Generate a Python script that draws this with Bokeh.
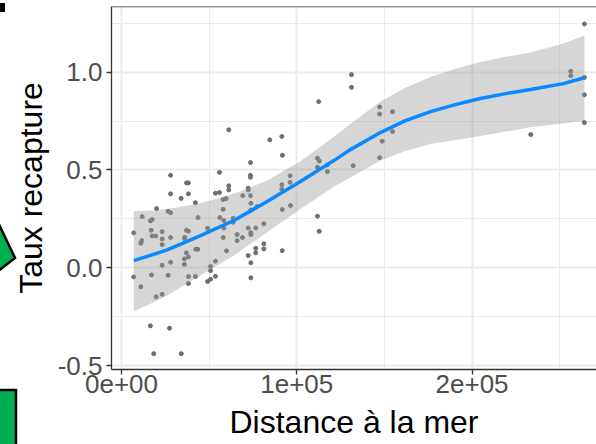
from bokeh.plotting import figure
from bokeh.layouts import row
from bokeh.models import FixedTicker, Span, Div
from bokeh.embed import file_html
from bokeh.resources import INLINE

# Observations: distance to the sea (m) and recapture rate
distance = [
    7000, 7000, 11000, 11600, 11000, 11800, 16500, 17500, 16900, 17500,
    19600, 17100, 16500, 18400, 19800, 20000, 23200, 23200, 23200, 23200,
    23200, 26600, 28000, 28000, 28000, 26600, 27400, 28000, 28000, 34100,
    34000, 37100, 38200, 38200, 37100, 38200, 36100, 36100, 37000, 38200,
    35900, 35900, 38200, 38200, 42200, 42200, 43700, 42400, 43500, 49100,
    50800, 50800, 50800, 49100, 53600, 53600, 53600, 55900, 55900, 56100,
    58000, 58400, 58400, 58000, 59700, 58000, 59900, 61200, 61200, 61200,
    63700, 63700, 66000, 66000, 69000, 69200, 73600, 72300, 72300, 73600,
    73600, 73600, 73800, 73800, 77200, 72300, 73800, 73800, 76600, 81200,
    72300, 73800, 73800, 76600, 76600, 81200, 81200, 84600, 91500, 91800,
    91700, 91700, 96200, 91500, 96200, 91500, 96400, 111800, 112900, 111800,
    117500, 117500, 112500, 111800, 112800, 131200, 131200, 132200, 147300, 147300,
    154600, 154600, 148700, 147300, 233500, 256300, 256300, 264100, 264100, 264100,
    264100,
]
taux = [
    0.179, -0.046, -0.096, 0.139, 0.126, 0.262, 0.240, 0.247, 0.192, 0.163,
    0.163, -0.036, -0.296, -0.438, -0.148, 0.303, 0.185, 0.148, 0.119, 0.013,
    -0.135, 0.289, 0.282, 0.155, 0.029, -0.038, -0.308, 0.473, 0.378, -0.438,
    0.355, 0.434, 0.434, 0.378, 0.192, 0.187, 0.156, 0.148, 0.077, 0.056,
    0.046, 0.018, -0.044, -0.080, -0.044, 0.333, 0.257, 0.095, 0.095, 0.202,
    0.007, -0.014, -0.058, -0.070, 0.034, -0.043, 0.381, 0.385, 0.488, 0.257,
    0.299, 0.242, 0.204, 0.155, 0.354, 0.349, 0.087, 0.705, 0.419, 0.398,
    0.253, 0.233, 0.170, 0.139, 0.155, 0.369, 0.369, 0.407, 0.398, 0.538,
    0.473, 0.463, 0.330, 0.296, 0.313, 0.204, 0.180, 0.170, 0.204, 0.225,
    0.063, 0.026, -0.051, 0.100, 0.077, 0.123, 0.097, 0.654, 0.671, 0.575,
    0.298, 0.088, 0.471, 0.424, 0.437, 0.401, 0.318, 0.560, 0.546, 0.514,
    0.526, 0.492, 0.849, 0.264, 0.187, 0.987, 0.922, 0.522, 0.822, 0.786,
    0.798, 0.696, 0.647, 0.563, 0.681, 1.004, 0.981, 1.246, 0.973, 0.884,
    0.742,
]

# Smoothed trend with its confidence band
smooth_x = [7000, 16500, 26100, 45100, 64100, 83100, 102100, 121100, 130600,
            147700, 162000, 176300, 190500, 204800, 219100, 233400, 252100, 264100]
smooth_fit = [0.037, 0.064, 0.092, 0.165, 0.242, 0.339, 0.441, 0.548, 0.604,
              0.691, 0.752, 0.798, 0.834, 0.865, 0.890, 0.911, 0.941, 0.971]
smooth_upper = [0.289, 0.293, 0.301, 0.330, 0.378, 0.446, 0.545, 0.668, 0.735,
                0.850, 0.920, 0.975, 1.017, 1.052, 1.078, 1.100, 1.146, 1.187]
smooth_lower = [-0.223, -0.183, -0.141, -0.039, 0.063, 0.182, 0.301, 0.415, 0.461,
                0.548, 0.597, 0.633, 0.653, 0.673, 0.696, 0.718, 0.737, 0.752]

x_ticks = [0, 100000, 200000]
x_tick_labels = ["0e+00", "1e+05", "2e+05"]
y_ticks = [-0.5, 0.0, 0.5, 1.0]
y_tick_labels = ["-0.5", "0.0", "0.5", "1.0"]
x_title = "Distance à la mer"
y_title = "Taux recapture"

FONT = "Liberation Sans"
GREEN = "#00B050"
SIDE_W = 50
PANEL_LEFT = 111

# ---- left strip: slide shapes and the vertical axis title ----
side_svg = f"""
<svg xmlns="http://www.w3.org/2000/svg" width="{SIDE_W}" height="444"
     style="display:block;overflow:hidden">
  <rect x="0" y="3" width="5" height="9" fill="black"/>
  <polygon points="-3,220 15,258 -3,272" fill="{GREEN}" stroke="black"
           stroke-width="2.5" stroke-linejoin="miter"/>
  <rect x="-3" y="390" width="19" height="60" fill="{GREEN}" stroke="black"
        stroke-width="2.5"/>
  <text x="42" y="188" transform="rotate(-90 42 188)" text-anchor="middle"
        font-family="{FONT}" font-size="32px" fill="black">{y_title}</text>
</svg>
"""
side = Div(text=side_svg, width=SIDE_W, height=444, margin=(0, 0, 0, 0),
           styles={"padding": "0", "margin": "0", "overflow": "hidden"})

# ---- main scatter plot ----
p = figure(width=596 - SIDE_W, height=444, output_backend="svg", toolbar_location=None,
           x_range=(-5700, 271000), y_range=(-0.519, 1.335),
           min_border_left=PANEL_LEFT - SIDE_W, min_border_right=0,
           min_border_top=6, min_border_bottom=75,
           background_fill_color="white", border_fill_color="white")
p.outline_line_color = None

p.scatter(distance, taux, size=4, color="#6E6E6E")
p.varea(x=smooth_x, y1=smooth_lower, y2=smooth_upper,
        fill_color="#999999", fill_alpha=0.4)
p.line(smooth_x, smooth_fit, line_color="#0A88FF", line_width=3.5)

p.xaxis.ticker = FixedTicker(ticks=x_ticks, minor_ticks=[50000, 150000, 250000])
p.yaxis.ticker = FixedTicker(ticks=y_ticks, minor_ticks=[-0.25, 0.25, 0.75, 1.25])
p.xaxis.major_label_overrides = dict(zip(x_ticks, x_tick_labels))
p.yaxis.major_label_overrides = dict(zip(y_ticks, y_tick_labels))

for g in (p.xgrid, p.ygrid):
    g.grid_line_color = "#EBEBEB"
    g.grid_line_width = 2
    g.minor_grid_line_color = "#EBEBEB"
    g.minor_grid_line_width = 1

for ax in (p.xaxis, p.yaxis):
    ax.axis_line_color = "#333333"
    ax.axis_line_width = 1.3
    ax.major_tick_line_color = "#333333"
    ax.major_tick_line_width = 1.3
    ax.major_tick_out = 5
    ax.major_tick_in = 0
    ax.minor_tick_out = 0
    ax.minor_tick_in = 0
    ax.major_label_text_font = FONT
    ax.major_label_text_font_size = "26px"
    ax.major_label_text_color = "#4D4D4D"
    ax.axis_label_text_font = FONT
    ax.axis_label_text_font_size = "32px"
    ax.axis_label_text_font_style = "normal"
    ax.axis_label_text_color = "black"

p.xaxis.axis_label = x_title
p.xaxis.major_label_standoff = 0
p.xaxis.axis_label_standoff = 8
p.yaxis.major_label_standoff = 4

# panel border along the top
p.add_layout(Span(location=1.335, dimension="width",
                  line_color="#333333", line_width=1.3))

layout = row(side, p, spacing=0)
open("out.html", "w").write(file_html(layout, INLINE))
